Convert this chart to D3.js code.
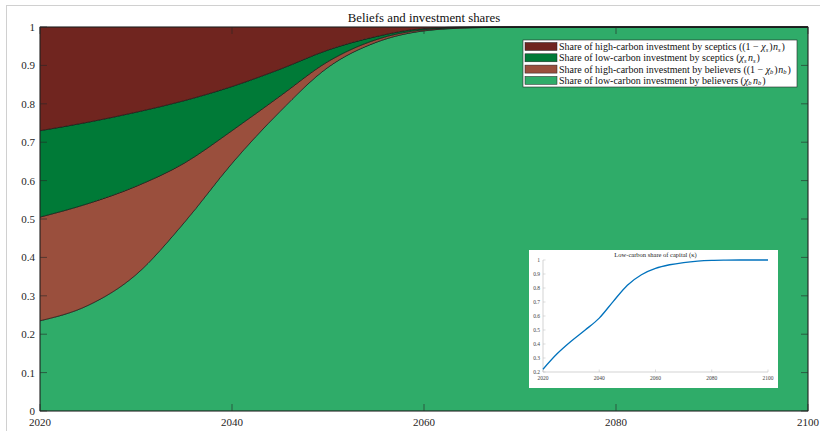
<!DOCTYPE html>
<html>
<head>
<meta charset="utf-8">
<script src="https://cdn.jsdelivr.net/npm/d3@7"></script>
<style>
  body { margin: 0; background: #fff; }
  svg { display: block; font-family: "Liberation Serif", "DejaVu Serif", serif; }
</style>
</head>
<body>
<svg id="chart" width="820" height="431"></svg>
<script>
// data
const years = [2020, 2025, 2030, 2035, 2040, 2045, 2050, 2055, 2060, 2065, 2070, 2075, 2080, 2085, 2090, 2095, 2100];
const lowBelievers  = [0.235, 0.275, 0.355, 0.49, 0.645, 0.78, 0.895, 0.96, 0.99, 0.998, 1, 1, 1, 1, 1, 1, 1];
const highBelievers = [0.27, 0.265, 0.23, 0.155, 0.085, 0.04, 0.015, 0.007, 0.003, 0.001, 0, 0, 0, 0, 0, 0, 0];
const lowSceptics   = [0.225, 0.212, 0.193, 0.163, 0.115, 0.07, 0.03, 0.008, 0.003, 0.001, 0, 0, 0, 0, 0, 0, 0];
const highSceptics  = [0.27, 0.248, 0.222, 0.192, 0.155, 0.11, 0.06, 0.025, 0.004, 0, 0, 0, 0, 0, 0, 0, 0];
const capitalShare  = [0.22, 0.33, 0.42, 0.50, 0.585, 0.705, 0.82, 0.895, 0.94, 0.966, 0.982, 0.992, 0.997, 0.999, 1, 1, 1];

const yTicks = d3.range(0, 1.01, 0.1);
const xTicks = [2020, 2040, 2060, 2080, 2100];
const insetYTicks = d3.range(0.2, 1.01, 0.1);

const keys = ["lowB", "highB", "lowS", "highS"];
const colors = { lowB: "#2fac69", highB: "#9a4f3d", lowS: "#007a37", highS: "#70251f" };

const rows = years.map((y, i) => ({
  year: y,
  lowB: lowBelievers[i],
  highB: highBelievers[i],
  lowS: lowSceptics[i],
  highS: highSceptics[i]
}));

const svg = d3.select("#chart");

// figure frame
svg.append("rect")
  .attr("x", 6.5).attr("y", 5.5).attr("width", 840).attr("height", 440)
  .attr("fill", "none").attr("stroke", "#d0d0d0");

const margin = { left: 40, top: 27, right: 12, bottom: 20 };
const width = 820 - margin.left - margin.right;
const height = 431 - margin.top - margin.bottom;

const x = d3.scaleLinear().domain([2020, 2100]).range([margin.left, margin.left + width]);
const y = d3.scaleLinear().domain([0, 1]).range([margin.top + height, margin.top]);

const stack = d3.stack().keys(keys);
const series = stack(rows);

const area = d3.area()
  .x(d => x(d.data.year))
  .y0(d => y(d[0]))
  .y1(d => y(d[1]))
  .curve(d3.curveMonotoneX);

svg.append("g")
  .selectAll("path")
  .data(series)
  .enter()
  .append("path")
  .attr("d", area)
  .attr("fill", d => colors[d.key])
  .attr("stroke", "#111")
  .attr("stroke-width", 0.6);

// axes box
const axisCol = "#262626";
svg.append("rect")
  .attr("x", x(2020)).attr("y", y(1))
  .attr("width", width).attr("height", height)
  .attr("fill", "none").attr("stroke", axisCol).attr("stroke-width", 0.7);

const tickLen = 7;
const ticks = svg.append("g").attr("stroke", axisCol).attr("stroke-width", 0.6);
yTicks.forEach(t => {
  ticks.append("line").attr("x1", x(2020)).attr("x2", x(2020) + tickLen).attr("y1", y(t)).attr("y2", y(t));
  ticks.append("line").attr("x1", x(2100)).attr("x2", x(2100) - tickLen).attr("y1", y(t)).attr("y2", y(t));
});
xTicks.forEach(t => {
  ticks.append("line").attr("x1", x(t)).attr("x2", x(t)).attr("y1", y(0)).attr("y2", y(0) - tickLen);
  ticks.append("line").attr("x1", x(t)).attr("x2", x(t)).attr("y1", y(1)).attr("y2", y(1) + tickLen);
});

svg.append("g")
  .selectAll("text")
  .data(yTicks)
  .enter()
  .append("text")
  .attr("x", x(2020) - 5)
  .attr("y", d => y(d) + 4)
  .attr("text-anchor", "end")
  .attr("font-size", 11)
  .attr("fill", axisCol)
  .text(d => d3.format("~g")(+d.toFixed(1)));

svg.append("g")
  .selectAll("text")
  .data(xTicks)
  .enter()
  .append("text")
  .attr("x", d => x(d))
  .attr("y", y(0) + 15)
  .attr("text-anchor", "middle")
  .attr("font-size", 11)
  .attr("fill", axisCol)
  .text(d => d);

svg.append("text")
  .attr("x", x(2060))
  .attr("y", 22)
  .attr("text-anchor", "middle")
  .attr("font-size", 12.8)
  .attr("fill", "#111")
  .text("Beliefs and investment shares");

// legend
const legend = svg.append("g").attr("transform", "translate(523,40)");
legend.append("rect")
  .attr("width", 274).attr("height", 47)
  .attr("fill", "#fff").attr("stroke", "#262626").attr("stroke-width", 0.6);

const legendItems = [
  { key: "highS", text: "Share of high-carbon investment by sceptics ((1 \u2212 ", sub: "s", tail: ")", n: "s" },
  { key: "lowS", text: "Share of low-carbon investment by sceptics (", sub: "s", tail: "", n: "s" },
  { key: "highB", text: "Share of high-carbon investment by believers ((1 \u2212 ", sub: "b", tail: ")", n: "b" },
  { key: "lowB", text: "Share of low-carbon investment by believers (", sub: "b", tail: "", n: "b" }
];

legendItems.forEach((it, i) => {
  const gy = 2.5 + i * 11.3;
  legend.append("rect")
    .attr("x", 2).attr("y", gy).attr("width", 32).attr("height", 8)
    .attr("fill", colors[it.key]).attr("stroke", "#222").attr("stroke-width", 0.5);
  const t = legend.append("text")
    .attr("x", 36).attr("y", gy + 7.5)
    .attr("font-size", 10).attr("fill", "#111");
  t.append("tspan").text(it.text);
  t.append("tspan").attr("font-style", "italic").text("\u03c7");
  t.append("tspan").attr("font-style", "italic").attr("font-size", 6.5).attr("dy", 1.5).text(it.sub);
  if (it.tail) {
    t.append("tspan").attr("dy", -1.5).attr("dx", 1).text(it.tail);
    t.append("tspan").attr("font-style", "italic").attr("dx", 0.5).text("n");
  } else {
    t.append("tspan").attr("font-style", "italic").attr("dy", -1.5).attr("dx", 1.5).text("n");
  }
  t.append("tspan").attr("font-style", "italic").attr("font-size", 6.5).attr("dy", 1.5).text(it.n);
  t.append("tspan").attr("dy", -1.5).attr("dx", 1).text(")");
});

// inset
const inset = svg.append("g");
inset.append("rect")
  .attr("x", 529).attr("y", 250).attr("width", 249).attr("height", 138)
  .attr("fill", "#fff");

const ix = d3.scaleLinear().domain([2020, 2100]).range([543, 768]);
const iy = d3.scaleLinear().domain([0.2, 1]).range([372, 260]);
const insetAxisCol = "#c8c8c8";

inset.append("line")
  .attr("x1", ix(2020)).attr("x2", ix(2100)).attr("y1", iy(0.2)).attr("y2", iy(0.2))
  .attr("stroke", insetAxisCol).attr("stroke-width", 0.8);
inset.append("line")
  .attr("x1", ix(2020)).attr("x2", ix(2020)).attr("y1", iy(0.2)).attr("y2", iy(1))
  .attr("stroke", insetAxisCol).attr("stroke-width", 0.8);

insetYTicks.forEach(t => {
  inset.append("line").attr("x1", ix(2020)).attr("x2", ix(2020) + 2.5).attr("y1", iy(t)).attr("y2", iy(t))
    .attr("stroke", insetAxisCol).attr("stroke-width", 0.6);
});
xTicks.forEach(t => {
  inset.append("line").attr("x1", ix(t)).attr("x2", ix(t)).attr("y1", iy(0.2)).attr("y2", iy(0.2) - 2.5)
    .attr("stroke", insetAxisCol).attr("stroke-width", 0.6);
});

inset.append("g")
  .selectAll("text")
  .data(insetYTicks)
  .enter()
  .append("text")
  .attr("x", ix(2020) - 3)
  .attr("y", d => iy(d) + 2)
  .attr("text-anchor", "end")
  .attr("font-size", 5.5)
  .attr("fill", "#444")
  .text(d => d3.format("~g")(+d.toFixed(1)));

inset.append("g")
  .selectAll("text")
  .data(xTicks)
  .enter()
  .append("text")
  .attr("x", d => ix(d))
  .attr("y", iy(0.2) + 7.5)
  .attr("text-anchor", "middle")
  .attr("font-size", 5.5)
  .attr("fill", "#444")
  .text(d => d);

inset.append("text")
  .attr("x", ix(2060))
  .attr("y", 257)
  .attr("text-anchor", "middle")
  .attr("font-size", 6.5)
  .attr("fill", "#222")
  .text("Low-carbon share of capital (\u03ba)");

const line = d3.line()
  .x((d, i) => ix(years[i]))
  .y(d => iy(d))
  .curve(d3.curveMonotoneX);

inset.append("path")
  .datum(capitalShare)
  .attr("d", line)
  .attr("fill", "none")
  .attr("stroke", "#0072bd")
  .attr("stroke-width", 1.3);
</script>
</body>
</html>
